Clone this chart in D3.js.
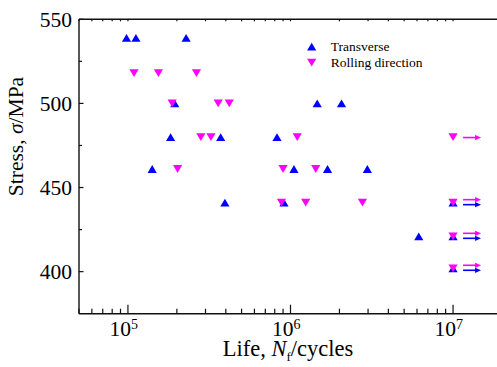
<!DOCTYPE html>
<html>
<head>
<meta charset="utf-8">
<script src="https://cdn.jsdelivr.net/npm/d3@7"></script>
<style>
  html, body { margin: 0; padding: 0; background: #fff; }
  svg { display: block; font-family: "Liberation Serif", "Times New Roman", serif; }
</style>
</head>
<body>
<svg id="chart"></svg>
<script>
// failures, transverse specimens
const transverseLife = [0.98e5, 1.12e5, 2.28e5, 1.94e5, 1.46e6, 2.06e6, 1.83e5, 3.72e5, 8.26e5,
  1.41e5, 1.05e6, 1.69e6, 2.97e6, 3.95e5, 9.12e5, 6.15e6];
const transverseStress = [539, 539, 539, 500, 500, 500, 480, 480, 480,
  461, 461, 461, 461, 441, 441, 421];
// failures, rolling direction
const rollingLife = [1.09e5, 1.54e5, 2.64e5, 1.87e5, 3.59e5, 4.2e5, 2.81e5, 3.24e5, 1.1e6,
  2.02e5, 9.0e5, 1.43e6, 8.8e5, 1.24e6, 2.77e6];
const rollingStress = [518, 518, 518, 500, 500, 500, 480, 480, 480,
  461, 461, 461, 441, 441, 441];
// run-outs (no failure at 1e7 cycles)
const runoutLife = 1e7;
const transverseRunout = [441, 421, 402];
const rollingRunout = [480, 441, 421, 402];

const yTicks = [400, 450, 500, 550];
const yMinor = [425, 475, 525];
const xTicks = [1e5, 1e6, 1e7];

const width = 497, height = 367;
const blue = "#0000ff", pink = "#ff00ff";

const svg = d3.select("#chart")
  .attr("width", width)
  .attr("height", height);

const x = d3.scaleLog().domain([5e4, 2e7]).range([79, 502]);
const y = d3.scaleLinear().domain([375, 550]).range([313.7, 19.3]);

// minor ticks for the log axis
const xMinor = [];
[1e4, 1e5, 1e6, 1e7].forEach(dec => {
  for (let k = 2; k <= 9; k++) {
    const v = dec * k;
    if (v >= 5e4 && v <= 2e7) xMinor.push(v);
  }
});

// triangle path, centred on its bounding box
function tri(cx, cy, up) {
  const w = 4.6, h = 3.9;
  const s = up ? 1 : -1;
  return `M${cx},${cy - s * h}L${cx + w},${cy + s * h}L${cx - w},${cy + s * h}Z`;
}

function arrow(g, x1, x2, yy, col) {
  g.append("line")
    .attr("x1", x1).attr("x2", x2 - 4)
    .attr("y1", yy).attr("y2", yy)
    .attr("stroke", col).attr("stroke-width", 1.6);
  g.append("path")
    .attr("d", `M${x2},${yy}L${x2 - 6},${yy - 2.6}L${x2 - 6},${yy + 2.6}Z`)
    .attr("fill", col);
}

// axes
const axes = svg.append("g").attr("stroke", "#111").attr("stroke-width", 1.4);
axes.append("line").attr("x1", 79).attr("x2", 79).attr("y1", 19.3).attr("y2", 313.7);
axes.append("line").attr("x1", 79).attr("x2", width).attr("y1", 313.7).attr("y2", 313.7);
axes.append("line").attr("x1", 79).attr("x2", width).attr("y1", 19.3).attr("y2", 19.3);

const ticks = svg.append("g").attr("stroke", "#111").attr("stroke-width", 1.2);
ticks.selectAll(".xmaj").data(xTicks).join("line")
  .attr("x1", d => x(d)).attr("x2", d => x(d))
  .attr("y1", 313.7).attr("y2", 313.7 - 9);
ticks.selectAll(".xmin").data(xMinor).join("line")
  .attr("class", "xmin")
  .attr("x1", d => x(d)).attr("x2", d => x(d))
  .attr("y1", 313.7).attr("y2", 313.7 - 5);
ticks.selectAll(".xtop").data(xTicks.concat(xMinor)).join("line")
  .attr("class", "xtop")
  .attr("x1", d => x(d)).attr("x2", d => x(d))
  .attr("y1", 19.3).attr("y2", 19.3 + 2);
ticks.selectAll(".ymaj").data(yTicks).join("line")
  .attr("class", "ymaj")
  .attr("x1", 79).attr("x2", 79 + 4.5)
  .attr("y1", d => y(d)).attr("y2", d => y(d));
ticks.selectAll(".ymin").data(yMinor).join("line")
  .attr("class", "ymin")
  .attr("x1", 79).attr("x2", 79 + 3)
  .attr("y1", d => y(d)).attr("y2", d => y(d));

// tick labels
svg.selectAll(".ylab").data(yTicks).join("text")
  .attr("class", "ylab")
  .attr("x", 72).attr("y", d => y(d))
  .attr("dy", "0.35em")
  .attr("text-anchor", "end")
  .attr("font-size", 21.5)
  .text(d => d);

const xl = svg.selectAll(".xlab").data(xTicks).join("text")
  .attr("class", "xlab")
  .attr("x", d => x(d) - 18.5).attr("y", 336)
  .attr("font-size", 21.5);
xl.append("tspan").text("10");
xl.append("tspan").attr("font-size", 14).attr("dy", -7.5)
  .text(d => Math.round(Math.log10(d)));

// axis titles
const xt = svg.append("text")
  .attr("x", 222.7).attr("y", 356)
  .attr("font-size", 22.5);
xt.append("tspan").text("Life, ");
xt.append("tspan").attr("font-style", "italic").text("N");
xt.append("tspan").attr("font-size", 13).attr("dy", 5).text("f");
xt.append("tspan").attr("dy", -5).text("/cycles");

const yt = svg.append("text")
  .attr("transform", "translate(23,136.5) rotate(-90)")
  .attr("text-anchor", "middle")
  .attr("font-size", 21.5);
yt.append("tspan").text("Stress, ");
yt.append("tspan").attr("font-style", "italic").text("σ");
yt.append("tspan").text("/MPa");

// points
const pts = svg.append("g");
pts.selectAll(".tr").data(transverseLife).join("path")
  .attr("d", (d, i) => tri(x(d), y(transverseStress[i]), true))
  .attr("fill", blue);
pts.selectAll(".tro").data(transverseRunout).join("path")
  .attr("d", d => tri(x(runoutLife), y(d), true))
  .attr("fill", blue);
pts.selectAll(".rd").data(rollingLife).join("path")
  .attr("d", (d, i) => tri(x(d), y(rollingStress[i]), false))
  .attr("fill", pink);
pts.selectAll(".rdo").data(rollingRunout).join("path")
  .attr("d", d => tri(x(runoutLife), y(d), false))
  .attr("fill", pink);

// run-out arrows
const arr = svg.append("g");
const ax1 = x(runoutLife) + 10, ax2 = x(runoutLife) + 28;
rollingRunout.forEach(s => {
  const both = transverseRunout.includes(s);
  arrow(arr, ax1, ax2, y(s) + (both ? -3 : 0.5), pink);
});
transverseRunout.forEach(s => {
  arrow(arr, ax1, ax2, y(s) + 2, blue);
});

// legend
const leg = svg.append("g");
leg.append("path").attr("d", tri(311.7, 46.7, true)).attr("fill", blue);
leg.append("path").attr("d", tri(311.7, 62.7, false)).attr("fill", pink);
leg.append("text").attr("x", 330.7).attr("y", 46.7).attr("dy", "0.35em")
  .attr("font-size", 13.5).text("Transverse");
leg.append("text").attr("x", 330.7).attr("y", 62.7).attr("dy", "0.35em")
  .attr("font-size", 13.5).text("Rolling direction");
</script>
</body>
</html>
